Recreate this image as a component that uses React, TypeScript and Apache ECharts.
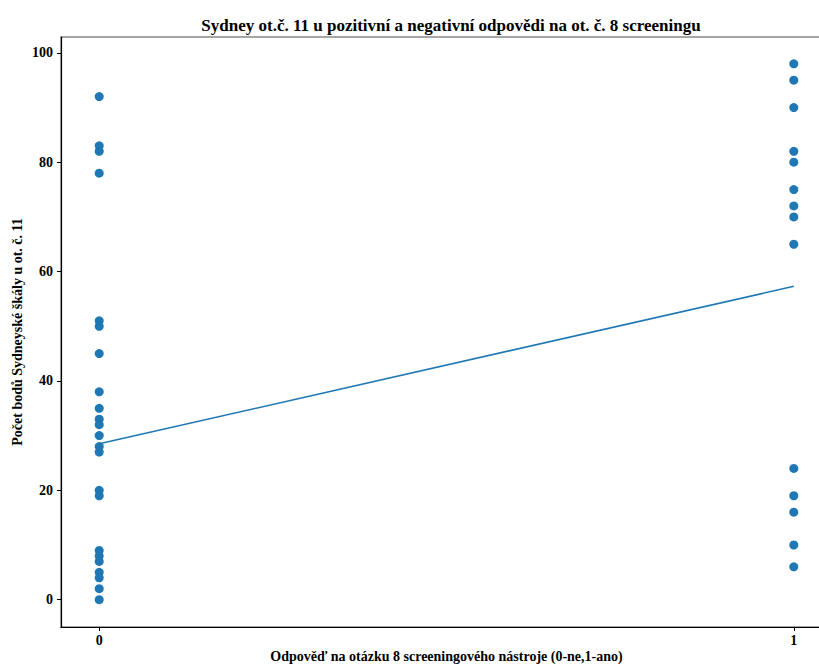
import React, { useEffect, useRef } from "react";
import * as echarts from "echarts";

const title = "Sydney ot.č. 11 u pozitivní a negativní odpovědi na ot. č. 8 screeningu";
const xAxisName = "Odpověď na otázku 8 screeningového nástroje (0-ne,1-ano)";
const yAxisName = "Počet bodů Sydneyské škály u ot. č. 11";

const xTicks = [0, 1];
const yTicks = [0, 20, 40, 60, 80, 100];

const groupNo = [92, 83, 82, 78, 51, 50, 45, 38, 35, 33, 32, 30, 28, 27, 20, 19, 9, 8, 7, 5, 4, 2, 0];
const groupYes = [98, 95, 90, 82, 80, 75, 72, 70, 65, 24, 19, 16, 10, 6];
// regression line values at x = 0 and x = 1
const fitX = [0, 1];
const fitY = [28.5, 57.3];

const FONT = "'Liberation Serif', 'Times New Roman', serif";

export default function App() {
  const ref = useRef<HTMLDivElement>(null);
  useEffect(() => {
    document.body.style.margin = "0";
    const chart = echarts.init(ref.current!, null, { renderer: "svg" });
    const scatterData = [
      ...groupNo.map((v) => [0, v]),
      ...groupYes.map((v) => [1, v]),
    ];
    chart.setOption({
      animation: false,
      backgroundColor: "#ffffff",
      title: {
        text: title,
        left: 446,
        textAlign: "center",
        top: 12,
        textStyle: { fontFamily: FONT, fontWeight: "bold", fontSize: 17, color: "#000" },
      },
      grid: {
        left: 61,
        top: 37,
        width: 771,
        height: 590,
        show: true,
        borderColor: "#888888",
        borderWidth: 1.5,
        containLabel: false,
        outerBoundsMode: "none",
      },
      xAxis: {
        type: "value",
        min: -0.055,
        max: 1.055,
        name: xAxisName,
        nameLocation: "middle",
        nameGap: 22,
        nameMoveOverlap: false,
        nameTextStyle: { fontFamily: FONT, fontWeight: "bold", fontSize: 14, color: "#000", lineHeight: 14 },
        axisLine: { show: true, onZero: false, lineStyle: { color: "#000", width: 1.2 } },
        axisTick: { show: true, length: 4, customValues: xTicks, lineStyle: { color: "#000" } },
        axisLabel: {
          customValues: xTicks,
          fontFamily: FONT,
          fontWeight: "bold",
          fontSize: 14,
          color: "#000",
          margin: 6,
        },
        splitLine: { show: false },
      },
      yAxis: {
        type: "value",
        min: -5,
        max: 102.9,
        name: yAxisName,
        nameLocation: "middle",
        nameGap: 37,
        nameMoveOverlap: false,
        nameTextStyle: { fontFamily: FONT, fontWeight: "bold", fontSize: 14, color: "#000" },
        axisLine: { show: true, onZero: false, lineStyle: { color: "#000", width: 1.2 } },
        axisTick: { show: true, length: 4, customValues: yTicks, lineStyle: { color: "#000" } },
        axisLabel: {
          customValues: yTicks,
          fontFamily: FONT,
          fontWeight: "bold",
          fontSize: 14,
          color: "#000",
          margin: 8,
        },
        splitLine: { show: false },
      },
      series: [
        {
          type: "scatter",
          data: scatterData,
          symbolSize: 9,
          itemStyle: { color: "#1f77b4", opacity: 1 },
        },
        {
          type: "line",
          data: fitX.map((x, i) => [x, fitY[i]]),
          showSymbol: false,
          symbol: "none",
          lineStyle: { color: "#1f77b4", width: 1.6 },
        },
      ],
    });
    return () => chart.dispose();
  }, []);
  return (
    <div style={{ width: 819, height: 664, overflow: "hidden", position: "relative" }}>
      <div ref={ref} style={{ width: 850, height: 664, position: "absolute", left: 0, top: 0 }} />
    </div>
  );
}
